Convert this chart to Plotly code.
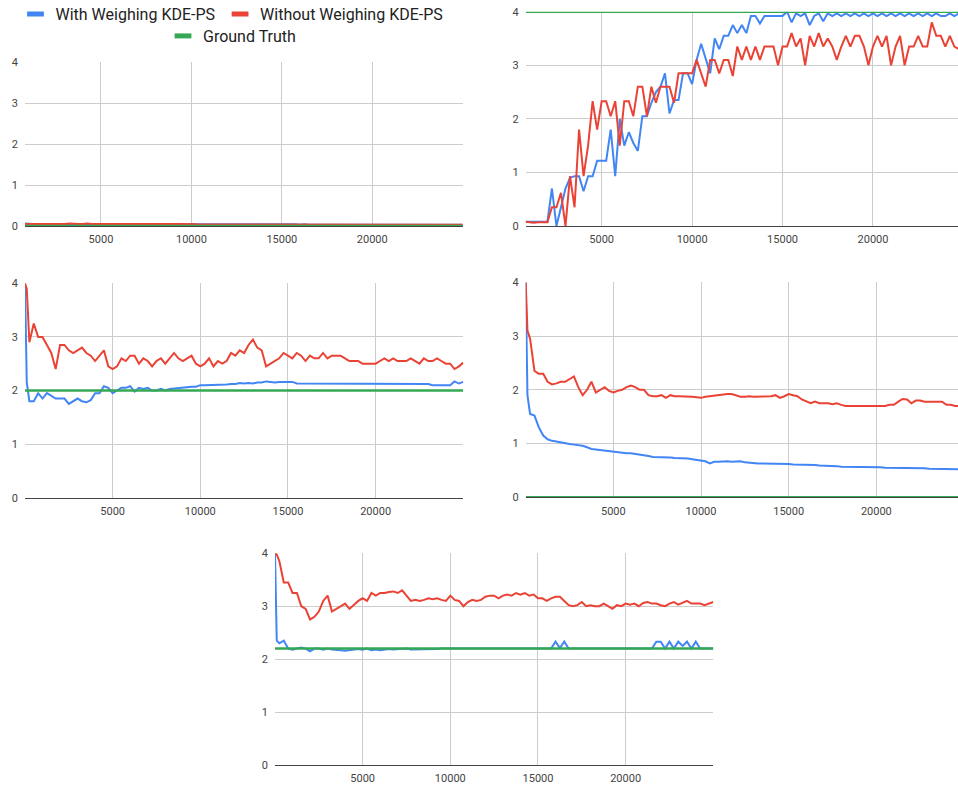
import plotly.graph_objects as go

# ---------------- data ----------------
X_FULL = [0, 100] + list(range(250, 25001, 250))
X_TOP = [800] + list(range(1000, 25001, 250))
X_TICKS = [5000, 10000, 15000, 20000, 25000]
X_TICK_TEXT = ["5000", "10000", "15000", "20000", ""]
Y_TICKS = [0, 1, 2, 3, 4]

SERIES_NAMES = ["With Weighing KDE-PS", "Without Weighing KDE-PS", "Ground Truth"]
GROUND_TRUTH = [0.0, 4.0, 2.0, 0.0, 2.2]

# panel 1 (top-left)
BLUE_TL = [0.06, 0.05, 0.05, 0.04, 0.05, 0.04, 0.05, 0.04,
           0.04, 0.05, 0.04, 0.04, 0.05, 0.04, 0.04, 0.05, 0.04, 0.04,
           0.04, 0.04, 0.05, 0.04, 0.04, 0.04, 0.04, 0.05, 0.04, 0.04,
           0.04, 0.04, 0.04, 0.04, 0.04, 0.04, 0.04, 0.04, 0.04, 0.04,
           0.04, 0.04, 0.04, 0.04, 0.04, 0.04, 0.04, 0.04, 0.04, 0.04,
           0.04, 0.04, 0.04, 0.04, 0.04, 0.04, 0.04, 0.04, 0.04, 0.04,
           0.04, 0.04, 0.04, 0.03, 0.04, 0.03, 0.03, 0.03, 0.03, 0.03,
           0.03, 0.03, 0.03, 0.03, 0.03, 0.03, 0.03, 0.03, 0.03, 0.03,
           0.03, 0.03, 0.03, 0.03, 0.03, 0.03, 0.03, 0.03, 0.03, 0.03,
           0.03, 0.03, 0.03, 0.03, 0.03, 0.03, 0.03, 0.03, 0.03, 0.03]
RED_TL = [0.05, 0.05, 0.04, 0.05, 0.05, 0.04, 0.05, 0.05,
          0.05, 0.05, 0.06, 0.05, 0.05, 0.05, 0.06, 0.05, 0.05, 0.05,
          0.05, 0.06, 0.05, 0.05, 0.06, 0.05, 0.05, 0.05, 0.05, 0.05,
          0.05, 0.05, 0.05, 0.05, 0.05, 0.05, 0.05, 0.05, 0.04, 0.05,
          0.04, 0.04, 0.04, 0.04, 0.04, 0.04, 0.04, 0.04, 0.04, 0.04,
          0.04, 0.04, 0.04, 0.04, 0.04, 0.04, 0.04, 0.04, 0.04, 0.04,
          0.04, 0.04, 0.04, 0.04, 0.04, 0.04, 0.04, 0.04, 0.04, 0.04,
          0.04, 0.04, 0.04, 0.04, 0.04, 0.04, 0.04, 0.04, 0.04, 0.04,
          0.04, 0.04, 0.04, 0.04, 0.04, 0.04, 0.03, 0.04, 0.03, 0.03,
          0.03, 0.03, 0.03, 0.03, 0.03, 0.03, 0.03, 0.03, 0.03, 0.03]

# panel 2 (top-right)
BLUE_TR = [0.08, 0.08, 0.07, 0.08, 0.07, 0.08, 0.7, 0.0,
           0.35, 0.7, 0.9, 0.93, 0.93, 0.65, 0.93, 0.93, 1.22, 1.22,
           1.22, 1.8, 0.93, 2.0, 1.5, 1.75, 1.55, 1.4, 2.05, 2.05,
           2.3, 2.5, 2.6, 2.85, 2.1, 2.35, 2.35, 2.85, 2.85, 2.65,
           3.1, 3.4, 3.1, 2.85, 3.5, 3.3, 3.55, 3.55, 3.75, 3.6,
           3.75, 3.6, 3.92, 3.92, 3.78, 3.92, 3.92, 3.92, 3.92, 3.92,
           4.0, 3.8, 3.97, 3.92, 3.97, 3.75, 3.92, 3.97, 3.82, 3.97,
           3.92, 3.97, 3.92, 3.97, 3.92, 3.97, 3.92, 3.97, 3.92, 3.97,
           3.92, 3.97, 3.92, 3.97, 3.92, 3.97, 3.92, 3.97, 3.92, 3.97,
           3.92, 3.97, 3.92, 3.97, 3.92, 3.92, 3.97, 3.92, 3.97, 3.92]
RED_TR = [0.08, 0.07, 0.06, 0.07, 0.07, 0.07, 0.35, 0.35,
          0.62, 0.0, 0.93, 0.35, 1.8, 0.93, 1.5, 2.33, 1.8, 2.33,
          2.33, 2.05, 2.33, 1.5, 2.33, 2.33, 2.05, 2.6, 2.6, 2.05,
          2.6, 2.3, 2.6, 2.6, 2.6, 2.3, 2.85, 2.85, 2.85, 2.85,
          3.1, 2.85, 2.6, 3.1, 3.1, 2.85, 3.1, 3.1, 2.8, 3.35,
          3.1, 3.35, 3.1, 3.35, 3.1, 3.35, 3.35, 3.35, 3.0, 3.35,
          3.35, 3.6, 3.35, 3.5, 3.0, 3.55, 3.35, 3.6, 3.35, 3.5,
          3.35, 3.1, 3.35, 3.55, 3.35, 3.55, 3.55, 3.35, 3.0, 3.35,
          3.55, 3.35, 3.55, 3.0, 3.35, 3.55, 3.0, 3.35, 3.35, 3.55,
          3.35, 3.35, 3.8, 3.55, 3.55, 3.35, 3.55, 3.35, 3.3, 3.5]

# panel 3 (middle-left)
BLUE_ML = [4.0, 2.15,
           1.8, 1.8, 1.95, 1.85, 1.95, 1.9, 1.85, 1.85, 1.85, 1.75,
           1.8, 1.85, 1.8, 1.78, 1.82, 1.95, 1.95, 2.08, 2.05, 1.95,
           2.0, 2.05, 2.05, 2.08, 1.98, 2.05, 2.03, 2.05, 2.0, 2.0,
           2.03, 2.0, 2.03, 2.04, 2.05, 2.05, 2.06, 2.07, 2.07, 2.1,
           2.1, 2.1, 2.1, 2.1, 2.11, 2.11, 2.12, 2.12, 2.14, 2.13,
           2.14, 2.13, 2.15, 2.15, 2.17, 2.16, 2.15, 2.16, 2.16, 2.17,
           2.16, 2.13, 2.13, 2.12, 2.13, 2.12, 2.12, 2.13, 2.12, 2.12,
           2.12, 2.12, 2.12, 2.12, 2.12, 2.12, 2.12, 2.12, 2.12, 2.12,
           2.12, 2.12, 2.12, 2.12, 2.12, 2.12, 2.12, 2.12, 2.12, 2.12,
           2.12, 2.12, 2.1, 2.1, 2.1, 2.1, 2.1, 2.17, 2.13, 2.16]
RED_ML = [4.0, 3.9,
          2.9, 3.25, 3.0, 3.0, 2.85, 2.7, 2.4, 2.85, 2.85, 2.75,
          2.7, 2.75, 2.8, 2.7, 2.65, 2.55, 2.65, 2.75, 2.45, 2.4,
          2.45, 2.6, 2.55, 2.65, 2.65, 2.5, 2.6, 2.55, 2.45, 2.55,
          2.6, 2.5, 2.6, 2.7, 2.6, 2.55, 2.6, 2.65, 2.5, 2.45,
          2.5, 2.6, 2.45, 2.55, 2.5, 2.55, 2.7, 2.65, 2.75, 2.7,
          2.85, 2.95, 2.8, 2.75, 2.45, 2.5, 2.55, 2.6, 2.7, 2.65,
          2.6, 2.7, 2.65, 2.55, 2.65, 2.6, 2.6, 2.7, 2.6, 2.65,
          2.65, 2.65, 2.6, 2.55, 2.55, 2.55, 2.5, 2.5, 2.5, 2.5,
          2.55, 2.6, 2.55, 2.6, 2.55, 2.55, 2.55, 2.6, 2.55, 2.5,
          2.6, 2.55, 2.55, 2.6, 2.55, 2.5, 2.5, 2.4, 2.45, 2.52]

# panel 4 (middle-right)
BLUE_MR = [4.0, 1.9,
           1.55, 1.52, 1.3, 1.15, 1.08, 1.05, 1.04, 1.02, 1.0, 0.99,
           0.98, 0.97, 0.96, 0.93, 0.9, 0.89, 0.88, 0.87, 0.86, 0.85,
           0.83, 0.82, 0.82, 0.82, 0.81, 0.8, 0.78, 0.77, 0.75, 0.75,
           0.75, 0.75, 0.74, 0.73, 0.73, 0.72, 0.72, 0.71, 0.7, 0.69,
           0.67, 0.63, 0.66, 0.66, 0.67, 0.67, 0.66, 0.66, 0.67, 0.65,
           0.64, 0.64, 0.63, 0.63, 0.63, 0.62, 0.62, 0.62, 0.62, 0.62,
           0.61, 0.61, 0.61, 0.6, 0.6, 0.6, 0.59, 0.59, 0.58, 0.58,
           0.58, 0.57, 0.57, 0.57, 0.57, 0.57, 0.56, 0.56, 0.56, 0.56,
           0.56, 0.55, 0.55, 0.55, 0.55, 0.54, 0.54, 0.54, 0.54, 0.54,
           0.54, 0.53, 0.53, 0.53, 0.53, 0.53, 0.52, 0.52, 0.52, 0.52]
RED_MR = [4.0, 3.1,
          2.95, 2.35, 2.3, 2.3, 2.15, 2.1, 2.12, 2.15, 2.15, 2.2,
          2.25, 2.05, 1.9, 2.0, 2.15, 1.95, 2.0, 2.05, 1.98, 1.95,
          1.98, 2.0, 2.05, 2.08, 2.05, 2.0, 2.0, 1.9, 1.88, 1.88,
          1.9, 1.85, 1.9, 1.88, 1.88, 1.88, 1.87, 1.87, 1.86, 1.85,
          1.87, 1.88, 1.9, 1.9, 1.91, 1.92, 1.92, 1.89, 1.87, 1.87,
          1.88, 1.87, 1.87, 1.88, 1.87, 1.88, 1.9, 1.85, 1.88, 1.92,
          1.9, 1.88, 1.82, 1.78, 1.75, 1.78, 1.75, 1.75, 1.75, 1.73,
          1.75, 1.72, 1.7, 1.7, 1.7, 1.7, 1.7, 1.7, 1.7, 1.7,
          1.71, 1.7, 1.72, 1.72, 1.78, 1.83, 1.82, 1.75, 1.8, 1.8,
          1.78, 1.78, 1.77, 1.78, 1.78, 1.72, 1.72, 1.7, 1.7, 1.7]

# panel 5 (bottom)
BLUE_B = [4.0, 2.35,
          2.3, 2.35, 2.2, 2.18, 2.2, 2.22, 2.2, 2.15, 2.2, 2.2,
          2.18, 2.2, 2.18, 2.18, 2.17, 2.16, 2.17, 2.18, 2.19, 2.18,
          2.2, 2.17, 2.18, 2.17, 2.18, 2.19, 2.18, 2.19, 2.2, 2.2,
          2.18, 2.18, 2.19, 2.19, 2.18, 2.19, 2.19, 2.2, 2.2, 2.21,
          2.2, 2.21, 2.2, 2.21, 2.2, 2.21, 2.2, 2.2, 2.2, 2.2,
          2.2, 2.2, 2.2, 2.2, 2.2, 2.2, 2.2, 2.2, 2.2, 2.2,
          2.2, 2.2, 2.2, 2.33, 2.21, 2.33, 2.2, 2.2, 2.2, 2.2,
          2.2, 2.2, 2.2, 2.2, 2.2, 2.2, 2.2, 2.2, 2.2, 2.2,
          2.2, 2.2, 2.2, 2.2, 2.2, 2.2, 2.33, 2.33, 2.2, 2.33,
          2.2, 2.33, 2.25, 2.33, 2.2, 2.33, 2.2, 2.2, 2.2, 2.2]
RED_B = [4.0, 3.98,
         3.85, 3.45, 3.45, 3.25, 3.25, 3.0, 2.95, 2.75, 2.8, 2.9,
         3.1, 3.2, 2.9, 2.95, 3.0, 3.05, 2.95, 3.02, 3.1, 3.15,
         3.1, 3.25, 3.2, 3.25, 3.25, 3.27, 3.28, 3.25, 3.3, 3.2,
         3.1, 3.12, 3.1, 3.12, 3.15, 3.13, 3.15, 3.12, 3.1, 3.2,
         3.12, 3.1, 3.0, 3.08, 3.12, 3.1, 3.12, 3.18, 3.2, 3.2,
         3.15, 3.2, 3.22, 3.2, 3.25, 3.22, 3.25, 3.2, 3.22, 3.15,
         3.15, 3.1, 3.15, 3.18, 3.18, 3.1, 3.02, 3.0, 3.02, 3.08,
         3.0, 3.02, 3.0, 3.0, 3.05, 3.0, 2.95, 3.02, 3.0, 3.05,
         3.03, 3.05, 3.0, 3.06, 3.08, 3.05, 3.05, 3.02, 3.0, 3.05,
         3.08, 3.03, 3.07, 3.1, 3.05, 3.05, 3.05, 3.02, 3.05, 3.08]

PANELS = [
    (X_TOP, BLUE_TL, RED_TL, GROUND_TRUTH[0]),
    (X_TOP, BLUE_TR, RED_TR, GROUND_TRUTH[1]),
    (X_FULL, BLUE_ML, RED_ML, GROUND_TRUTH[2]),
    (X_FULL, BLUE_MR, RED_MR, GROUND_TRUTH[3]),
    (X_FULL, BLUE_B, RED_B, GROUND_TRUTH[4]),
]

# ---------------- style / layout ----------------
W, H = 958, 787
COLORS = ["#4285F4", "#EA4335", "#34A853"]
FONT = "Roboto, Arial, sans-serif"

# plot-area boxes in pixels: (left, right, top, bottom), x-range
BOXES = [
    ((25.0, 462.7, 62.0, 226.0), [800, 25000]),
    ((525.7, 958.0, 11.7, 226.0), [800, 24701]),
    ((25.0, 463.3, 283.3, 497.7), [0, 25000]),
    ((525.7, 958.0, 282.3, 497.3), [0, 24658]),
    ((275.0, 713.3, 553.3, 765.0), [0, 25000]),
]

fig = go.Figure()
layout = dict(
    width=W, height=H, margin=dict(l=0, r=0, t=0, b=0, autoexpand=False),
    paper_bgcolor="white", plot_bgcolor="white",
    font=dict(family=FONT, size=11, color="#444444"),
    showlegend=True,
)

for i, ((x, blue, red, gt), (box, xr)) in enumerate(zip(PANELS, BOXES)):
    n = i + 1
    xa = "x" if n == 1 else f"x{n}"
    ya = "y" if n == 1 else f"y{n}"
    n_b = min(len(x), len(blue))
    n_r = min(len(x), len(red))
    fig.add_trace(go.Scatter(x=x[:n_b], y=blue[:n_b], mode="lines", xaxis=xa, yaxis=ya,
                             line=dict(color=COLORS[0], width=2), showlegend=False,
                             name=SERIES_NAMES[0]))
    fig.add_trace(go.Scatter(x=x[:n_r], y=red[:n_r], mode="lines", xaxis=xa, yaxis=ya,
                             line=dict(color=COLORS[1], width=2), showlegend=False,
                             name=SERIES_NAMES[1]))
    fig.add_trace(go.Scatter(x=[x[0], x[-1]], y=[gt, gt], mode="lines", xaxis=xa, yaxis=ya,
                             line=dict(color=COLORS[2], width=2.5), showlegend=False,
                             name=SERIES_NAMES[2]))
    l, r, t, b = box
    xk = "xaxis" if n == 1 else f"xaxis{n}"
    yk = "yaxis" if n == 1 else f"yaxis{n}"
    layout[xk] = dict(
        domain=[l / W, r / W], range=xr, anchor=ya, automargin=False,
        tickmode="array", tickvals=X_TICKS, ticktext=X_TICK_TEXT,
        showgrid=True, gridcolor="#cccccc", gridwidth=1, zeroline=False,
        showline=True, linecolor="#444444", linewidth=1, ticks="",
        ticklabelstandoff=3,
        tickfont=dict(family=FONT, size=11, color="#444444"),
        fixedrange=True,
    )
    layout[yk] = dict(
        domain=[(H - b) / H, (H - t) / H], range=[0, 4], anchor=xa, automargin=False,
        tickmode="array", tickvals=Y_TICKS,
        showgrid=True, gridcolor="#cccccc", gridwidth=1, zeroline=False,
        showline=False, ticks="", ticklabelstandoff=6,
        tickfont=dict(family=FONT, size=11, color="#444444"),
        fixedrange=True,
    )

# legend entries (short thick bars like the original)
for k in range(3):
    fig.add_trace(go.Scatter(
        x=[None], y=[None], mode="markers", name=SERIES_NAMES[k],
        marker=dict(symbol="line-ew", size=12, color=COLORS[k],
                    line=dict(width=5, color=COLORS[k])),
        legend="legend" if k < 2 else "legend2", showlegend=True,
    ))

legend_common = dict(orientation="h", xanchor="center", yanchor="middle",
                     font=dict(family=FONT, size=16, color="#222222"),
                     bgcolor="rgba(0,0,0,0)", itemclick=False, itemdoubleclick=False)
layout["legend"] = dict(x=232 / W, y=(H - 14) / H, **legend_common)
layout["legend2"] = dict(x=232 / W, y=(H - 36) / H, **legend_common)

fig.update_layout(**layout)
fig.write_html("out.html")
